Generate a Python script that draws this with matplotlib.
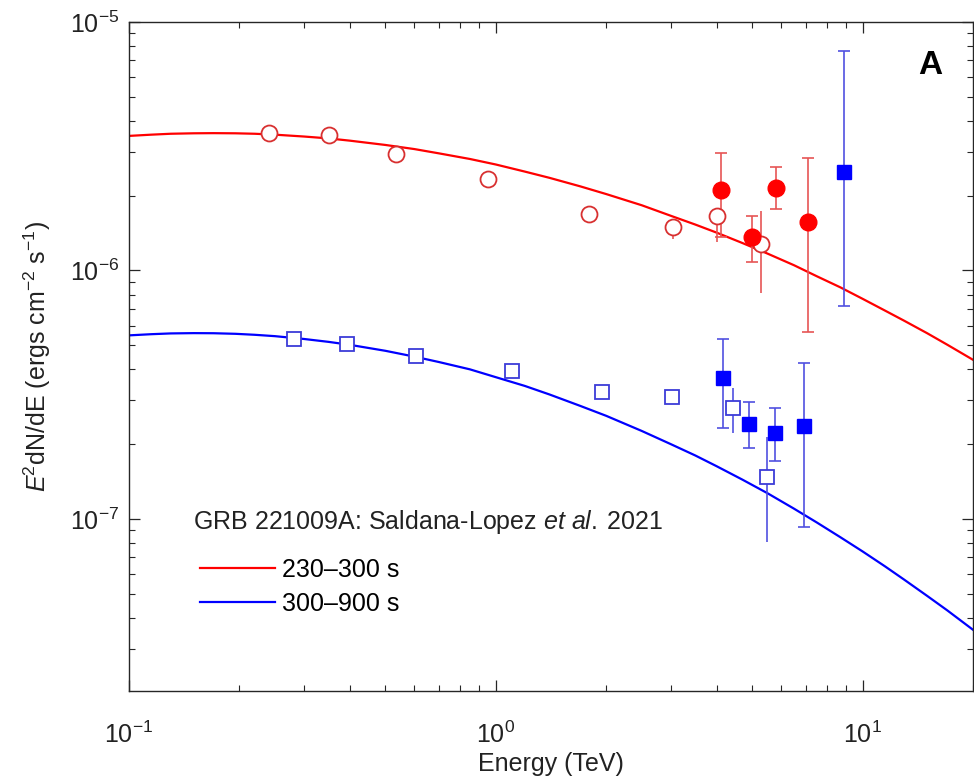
import numpy as np
import matplotlib
matplotlib.use("Agg")
import matplotlib.pyplot as plt
from matplotlib.lines import Line2D
from matplotlib.ticker import LogLocator, NullFormatter

plt.rcParams['font.family'] = ['Liberation Sans', 'DejaVu Sans']
plt.rcParams['mathtext.fontset'] = 'custom'
plt.rcParams['mathtext.rm'] = 'Liberation Sans'
plt.rcParams['mathtext.it'] = 'Liberation Sans:italic'
plt.rcParams['mathtext.bf'] = 'Liberation Sans:bold'

# ---------------- data ----------------
# model curves
curve_energy = [0.1, 0.115, 0.13, 0.15, 0.17, 0.195, 0.22, 0.25, 0.3, 0.35, 0.4, 0.5,
                0.6, 0.7, 0.85, 1.0, 1.2, 1.4, 1.7, 2.0, 2.5, 3.0, 3.5, 4.0, 4.7, 5.5,
                6.5, 7.5, 8.7, 10.0, 11.5, 13.0, 15.0, 17.0, 20.0]
curve_red = [3.48e-6, 3.52e-6, 3.55e-6, 3.565e-6, 3.57e-6, 3.565e-6, 3.55e-6, 3.52e-6,
             3.46e-6, 3.40e-6, 3.33e-6, 3.20e-6, 3.08e-6, 2.96e-6, 2.81e-6, 2.67e-6,
             2.50e-6, 2.36e-6, 2.18e-6, 2.03e-6, 1.83e-6, 1.66e-6, 1.53e-6, 1.42e-6,
             1.29e-6, 1.17e-6, 1.05e-6, 9.48e-7, 8.55e-7, 7.69e-7, 6.90e-7, 6.27e-7,
             5.59e-7, 5.03e-7, 4.37e-7]
curve_blue = [5.48e-7, 5.54e-7, 5.58e-7, 5.595e-7, 5.59e-7, 5.56e-7, 5.51e-7, 5.44e-7,
              5.30e-7, 5.16e-7, 5.02e-7, 4.75e-7, 4.50e-7, 4.28e-7, 4.00e-7, 3.72e-7,
              3.43e-7, 3.17e-7, 2.85e-7, 2.60e-7, 2.26e-7, 2.00e-7, 1.80e-7, 1.63e-7,
              1.44e-7, 1.27e-7, 1.10e-7, 9.68e-8, 8.44e-8, 7.40e-8, 6.45e-8, 5.69e-8,
              4.90e-8, 4.29e-8, 3.58e-8]

# red open circles
red_open_E = [0.241, 0.351, 0.534, 0.951, 1.80, 3.05, 4.02, 5.29]
red_open_F = [3.58e-6, 3.51e-6, 2.95e-6, 2.34e-6, 1.69e-6, 1.49e-6, 1.65e-6, 1.28e-6]
red_open_lo = [3.58e-6, 3.51e-6, 2.95e-6, 2.34e-6, 1.69e-6, 1.34e-6, 1.30e-6, 8.08e-7]
red_open_hi = [3.58e-6, 3.51e-6, 2.95e-6, 2.34e-6, 1.69e-6, 1.49e-6, 1.70e-6, 1.74e-6]

# red filled circles
red_fill_E = [4.12, 5.01, 5.82, 7.11]
red_fill_F = [2.10e-6, 1.36e-6, 2.15e-6, 1.57e-6]
red_fill_lo = [1.36e-6, 1.08e-6, 1.77e-6, 5.64e-7]
red_fill_hi = [2.98e-6, 1.66e-6, 2.62e-6, 2.84e-6]

# blue open squares
blue_open_E = [0.282, 0.393, 0.606, 1.105, 1.95, 3.03, 4.44, 5.50]
blue_open_F = [5.29e-7, 5.05e-7, 4.52e-7, 3.93e-7, 3.24e-7, 3.09e-7, 2.79e-7, 1.48e-7]
blue_open_lo = [5.29e-7, 5.05e-7, 4.52e-7, 3.93e-7, 3.24e-7, 2.92e-7, 2.21e-7, 8.09e-8]
blue_open_hi = [5.29e-7, 5.05e-7, 4.52e-7, 3.93e-7, 3.24e-7, 3.09e-7, 3.36e-7, 2.13e-7]

# blue filled squares
blue_fill_E = [4.17, 4.91, 5.78, 6.93, 8.91]
blue_fill_F = [3.68e-7, 2.41e-7, 2.21e-7, 2.36e-7, 2.50e-6]
blue_fill_lo = [2.32e-7, 1.93e-7, 1.71e-7, 9.29e-8, 7.17e-7]
blue_fill_hi = [5.29e-7, 2.95e-7, 2.79e-7, 4.23e-7, 7.66e-6]

legend_labels = ['230\u2013300 s', '300\u2013900 s']
title_text = 'GRB 221009A: Saldana-Lopez $\\it{et\\ al.}$\u20092021'

# ---------------- figure ----------------
RED = '#ff0000'
BLUE = '#0000ff'
RED_ERR = '#e65555'
BLUE_ERR = '#5050e0'
AX = '#262626'

fig = plt.figure(figsize=(9.74, 7.81), dpi=100)
ax = fig.add_axes([129 / 974, 1 - 691 / 781, 844 / 974, 669 / 781])
ax.set_xscale('log')
ax.set_yscale('log')

ax.plot(curve_energy, curve_red, color=RED, lw=1.6, zorder=2)
ax.plot(curve_energy, curve_blue, color=BLUE, lw=1.6, zorder=2)


def yerr(F, lo, hi):
    F = np.asarray(F); lo = np.asarray(lo); hi = np.asarray(hi)
    return np.vstack([F - lo, hi - F])


# error bars (open markers: no caps)
ax.errorbar(red_open_E, red_open_F, yerr=yerr(red_open_F, red_open_lo, red_open_hi),
            fmt='none', ecolor=RED_ERR, elinewidth=1.2, capsize=0, zorder=3)
ax.errorbar(blue_open_E, blue_open_F, yerr=yerr(blue_open_F, blue_open_lo, blue_open_hi),
            fmt='none', ecolor=BLUE_ERR, elinewidth=1.2, capsize=0, zorder=3)
ax.errorbar(red_fill_E, red_fill_F, yerr=yerr(red_fill_F, red_fill_lo, red_fill_hi),
            fmt='none', ecolor=RED_ERR, elinewidth=1.2, capsize=4.5, capthick=1.2, zorder=3)
ax.errorbar(blue_fill_E, blue_fill_F, yerr=yerr(blue_fill_F, blue_fill_lo, blue_fill_hi),
            fmt='none', ecolor=BLUE_ERR, elinewidth=1.2, capsize=4.5, capthick=1.2, zorder=3)

# markers
ax.plot(red_open_E, red_open_F, 'o', ms=11.5, mfc='white', mec='#d83030', mew=1.3,
        ls='none', zorder=4)
ax.plot(blue_open_E, blue_open_F, 's', ms=9.5, mfc='white', mec='#3c3cd8', mew=1.3,
        ls='none', zorder=4)
ax.plot(red_fill_E, red_fill_F, 'o', ms=12, mfc=RED, mec=RED, ls='none', zorder=5)
ax.plot(blue_fill_E, blue_fill_F, 's', ms=10, mfc=BLUE, mec=BLUE, ls='none', zorder=5)

ax.set_xlim(0.1, 20)
ax.set_ylim(2.03e-8, 1e-5)

ax.xaxis.set_major_locator(LogLocator(base=10, numticks=10))
ax.xaxis.set_minor_locator(LogLocator(base=10, subs=np.arange(2, 10), numticks=20))
ax.yaxis.set_major_locator(LogLocator(base=10, numticks=10))
ax.yaxis.set_minor_locator(LogLocator(base=10, subs=np.arange(2, 10), numticks=20))
ax.xaxis.set_minor_formatter(NullFormatter())
ax.yaxis.set_minor_formatter(NullFormatter())

ax.tick_params(which='both', direction='in', top=True, right=True, color=AX,
               labelcolor='#222222', labelsize=18)
ax.tick_params(which='major', length=8, width=0.9)
ax.tick_params(which='minor', length=4.5, width=0.8)
ax.tick_params(axis='x', which='major', pad=22)
ax.tick_params(axis='y', which='major', pad=7)
for sp in ax.spines.values():
    sp.set_color(AX)
    sp.set_linewidth(1.0)

ax.set_xlabel('Energy (TeV)', fontsize=18, color='#222222', labelpad=3)
ax.set_ylabel('$\\it{E}$$^{2}$dN/dE (ergs cm$^{-2}$ s$^{-1}$)', fontsize=18,
              color='#222222', labelpad=12)

# annotation text and legend
ax.text((193 - 129) / 844, (691 - 522) / 669, title_text, transform=ax.transAxes,
        fontsize=18, va='center', ha='left', color='#222222')
handles = [Line2D([0], [0], color=RED, lw=1.6), Line2D([0], [0], color=BLUE, lw=1.6)]
ax.legend(handles, legend_labels, loc='center left',
          bbox_to_anchor=((200 - 129) / 844, (691 - 587) / 669),
          frameon=False, fontsize=18, handlelength=3.0, handletextpad=0.3,
          labelspacing=0.4, borderpad=0, borderaxespad=0)

fig.text(930 / 974, 1 - 66 / 781, 'A', fontsize=24, fontweight='bold', ha='center',
         va='center', color='black')

fig.savefig('out.png', dpi=100)
